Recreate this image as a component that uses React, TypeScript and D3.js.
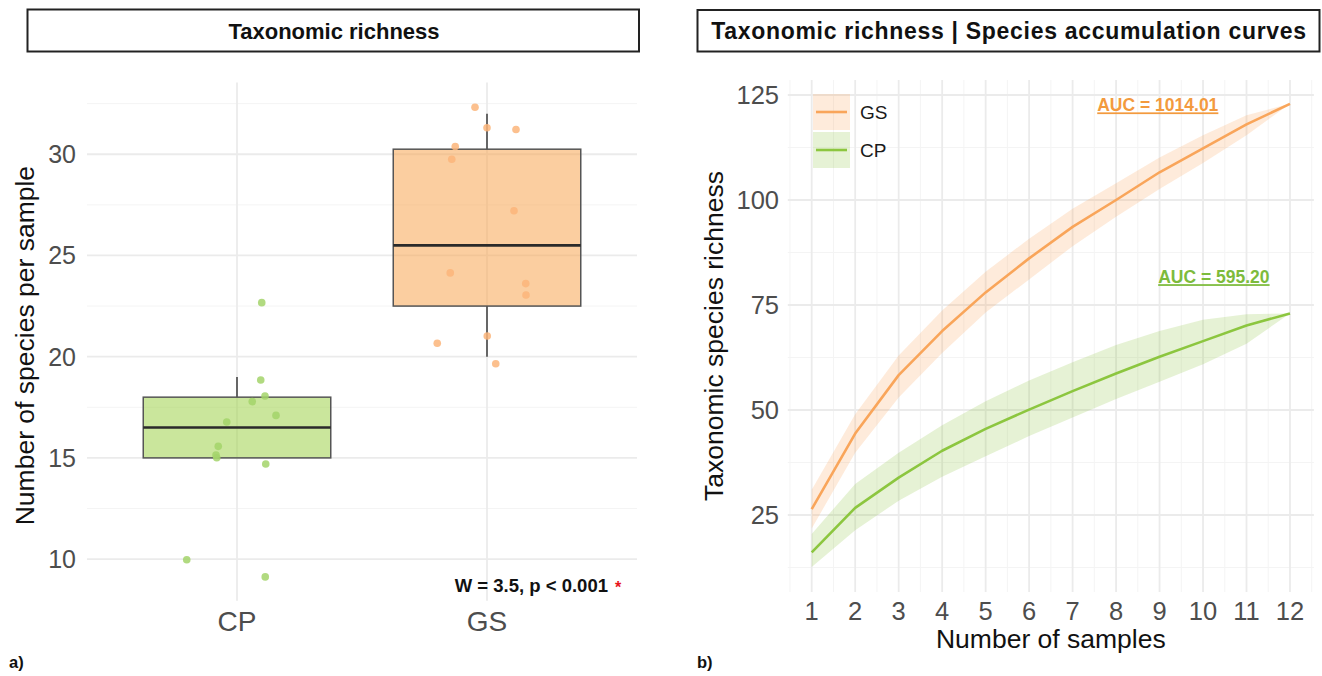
import React from 'react';
import * as d3 from 'd3';

// ---------- Panel a) data ----------
const groups = ['CP', 'GS'];
const cpValues = [22.67, 18.85, 18.06, 17.78, 17.1, 16.77, 15.57, 15.01, 15.14, 14.7, 9.97, 9.12];
const cpJitter = [0.099, 0.095, 0.112, 0.061, 0.156, -0.041, -0.075, -0.081, -0.084, 0.115, -0.201, 0.113];
const gsValues = [32.32, 31.31, 31.22, 30.38, 29.75, 27.21, 24.14, 23.61, 23.05, 21.02, 20.66, 19.65];
const gsJitter = [-0.048, 0, 0.116, -0.127, -0.141, 0.108, -0.147, 0.155, 0.156, 0.001, -0.199, 0.035];
// [lower whisker, q1, median, q3, upper whisker]
const cpBox = [15, 15, 16.5, 18, 19];
const gsBox = [20, 22.5, 25.5, 30.25, 32];
const leftTicks = [10, 15, 20, 25, 30];
const leftMinor = [12.5, 17.5, 22.5, 27.5, 32.5];
const statText = 'W = 3.5, p < 0.001';

// ---------- Panel b) data ----------
const samples = [1, 2, 3, 4, 5, 6, 7, 8, 9, 10, 11, 12];
const gsMean = [26.4, 44.4, 58.3, 68.8, 78.0, 86.1, 93.6, 100.0, 106.6, 112.3, 118.0, 122.9];
const gsLower = [21.8, 39.8, 53.0, 63.6, 73.2, 81.1, 89.0, 96.0, 102.6, 108.8, 115.4, 122.9];
const gsUpper = [31.0, 49.0, 63.0, 73.7, 82.9, 90.8, 97.9, 104.0, 110.1, 115.4, 120.2, 122.9];
const cpMean = [16.1, 26.7, 33.9, 40.3, 45.5, 50.1, 54.5, 58.7, 62.7, 66.4, 70.1, 73.0];
const cpLower = [12.6, 21.4, 28.4, 34.1, 39.0, 43.8, 48.2, 52.6, 56.7, 60.9, 65.8, 73.0];
const cpUpper = [20.5, 32.4, 39.8, 46.4, 52.1, 57.0, 61.4, 65.5, 68.8, 71.5, 72.8, 73.0];
const rightTicks = [25, 50, 75, 100, 125];
const rightMinor = [12.5, 37.5, 62.5, 87.5, 112.5];
const xMinor = [0.5, 1.5, 2.5, 3.5, 4.5, 5.5, 6.5, 7.5, 8.5, 9.5, 10.5, 11.5, 12.5];
const aucLabels = ['AUC = 1014.01', 'AUC = 595.20'];
const aucX = [8.96, 10.25];
const aucY = [122.6, 81.7];

const FONT = '"Liberation Sans", Arial, Helvetica, sans-serif';
const GREEN = '#8cc63f';
const ORANGE = '#f9a55a';
const GRID = '#ebebeb';
const GRID_MINOR = '#f4f4f4';
const TICK = '#4d4d4d';

export default function App() {
  // Left panel scales
  const xL = d3.scaleLinear().domain([0.4, 2.6]).range([87, 637]);
  const yL = d3.scaleLinear().domain([7.94, 33.55]).range([600.8, 82.4]);
  // Right panel scales
  const xR = d3.scaleLinear().domain([0.45, 12.55]).range([787.8, 1313.9]);
  const yR = d3.scaleLinear().domain([6.67, 128.57]).range([592, 80]);

  const boxes = [
    { name: groups[0], stats: cpBox, vals: cpValues, jit: cpJitter, fill: '#9ed24a', pt: '#a3d46a' },
    { name: groups[1], stats: gsBox, vals: gsValues, jit: gsJitter, fill: '#f8a552', pt: '#fbb57a' },
  ];

  const series = [
    { name: 'GS', mean: gsMean, lo: gsLower, hi: gsUpper, color: ORANGE, text: '#f39a3e' },
    { name: 'CP', mean: cpMean, lo: cpLower, hi: cpUpper, color: GREEN, text: '#7dbb3c' },
  ];

  const line = (vals: number[]) =>
    d3.line<number>().x((_, i) => xR(samples[i])).y((d) => yR(d))(vals) || '';
  const area = (lo: number[], hi: number[]) =>
    d3
      .area<number>()
      .x((_, i) => xR(samples[i]))
      .y0((_, i) => yR(lo[i]))
      .y1((_, i) => yR(hi[i]))(samples) || '';

  const half = 0.375;

  return (
    <svg
      width={1322}
      height={676}
      style={{ position: 'absolute', left: 0, top: 0, background: '#fff' }}
      fontFamily={FONT}
    >
      <rect x={0} y={0} width={1322} height={676} fill="#fff" />

      {/* ---------- Panel a ---------- */}
      <rect x={27.5} y={9.5} width={611.5} height={42} fill="#fff" stroke="#222" strokeWidth={2} />
      <text x={334} y={38.5} textAnchor="middle" fontSize={22} fontWeight="bold" fill="#111">
        Taxonomic richness
      </text>

      {leftMinor.map((v) => (
        <line key={'lm' + v} x1={xL(0.4)} x2={xL(2.6)} y1={yL(v)} y2={yL(v)} stroke={GRID_MINOR} strokeWidth={1} />
      ))}
      {leftTicks.map((v) => (
        <line key={'lt' + v} x1={xL(0.4)} x2={xL(2.6)} y1={yL(v)} y2={yL(v)} stroke={GRID} strokeWidth={1.8} />
      ))}
      {groups.map((g, i) => (
        <line key={'lv' + g} x1={xL(i + 1)} x2={xL(i + 1)} y1={yL(33.55)} y2={yL(7.94)} stroke={GRID} strokeWidth={1.8} />
      ))}

      {boxes.map((b, i) => {
        const c = i + 1;
        const [lw, q1, med, q3, uw] = b.stats;
        return (
          <g key={'box' + b.name}>
            <line x1={xL(c)} x2={xL(c)} y1={yL(q3)} y2={yL(uw)} stroke="#444" strokeWidth={1.6} />
            <line x1={xL(c)} x2={xL(c)} y1={yL(q1)} y2={yL(lw)} stroke="#444" strokeWidth={1.6} />
            <rect
              x={xL(c - half)}
              y={yL(q3)}
              width={xL(c + half) - xL(c - half)}
              height={yL(q1) - yL(q3)}
              fill={b.fill}
              fillOpacity={0.55}
              stroke="#555"
              strokeWidth={1.5}
            />
            <line x1={xL(c - half)} x2={xL(c + half)} y1={yL(med)} y2={yL(med)} stroke="#2a2a2a" strokeWidth={2.6} />
            {b.vals.map((v, k) => (
              <circle key={k} cx={xL(c + b.jit[k])} cy={yL(v)} r={3.8} fill={b.pt} fillOpacity={0.85} />
            ))}
          </g>
        );
      })}

      {leftTicks.map((v) => (
        <text key={'ly' + v} x={76} y={yL(v)} dy="0.36em" textAnchor="end" fontSize={25} fill={TICK}>
          {v}
        </text>
      ))}
      {groups.map((g, i) => (
        <text key={'lx' + g} x={xL(i + 1)} y={631} textAnchor="middle" fontSize={28} fill={TICK}>
          {g}
        </text>
      ))}
      <text
        transform={`translate(34,${(yL(33.55) + yL(7.94)) / 2 + 4}) rotate(-90)`}
        textAnchor="middle"
        fontSize={26.5}
        fill="#111"
      >
        Number of species per sample
      </text>
      <text x={608} y={592} textAnchor="end" fontSize={18.5} fontWeight="bold" fill="#111">
        {statText}
      </text>
      <text x={618} y={593} textAnchor="middle" fontSize={16} fontWeight="bold" fill="#e8141c">
        *
      </text>
      <text x={9} y={668} fontSize={16.5} fontWeight="bold" fill="#111">
        a)
      </text>

      {/* ---------- Panel b ---------- */}
      <rect x={697.5} y={10} width={622} height={41.5} fill="#fff" stroke="#222" strokeWidth={2} />
      <text x={1009} y={38.5} textAnchor="middle" fontSize={23} fontWeight="bold" fill="#111" letterSpacing={0.7}>
        Taxonomic richness | Species accumulation curves
      </text>

      {rightMinor.map((v) => (
        <line key={'rm' + v} x1={xR(0.45)} x2={xR(12.55)} y1={yR(v)} y2={yR(v)} stroke={GRID_MINOR} strokeWidth={1} />
      ))}
      {xMinor.map((v) => (
        <line key={'rxm' + v} x1={xR(v)} x2={xR(v)} y1={yR(128.57)} y2={yR(6.67)} stroke={GRID_MINOR} strokeWidth={1} />
      ))}
      {rightTicks.map((v) => (
        <line key={'rt' + v} x1={xR(0.45)} x2={xR(12.55)} y1={yR(v)} y2={yR(v)} stroke={GRID} strokeWidth={1.8} />
      ))}
      {samples.map((s) => (
        <line key={'rv' + s} x1={xR(s)} x2={xR(s)} y1={yR(128.57)} y2={yR(6.67)} stroke={GRID} strokeWidth={1.8} />
      ))}

      {series.map((s) => (
        <path key={'rib' + s.name} d={area(s.lo, s.hi)} fill={s.color} fillOpacity={0.22} />
      ))}
      {series.map((s) => (
        <path key={'ln' + s.name} d={line(s.mean)} fill="none" stroke={s.color} strokeWidth={2.6} strokeLinejoin="round" />
      ))}

      {/* legend */}
      {series.map((s, i) => (
        <g key={'lg' + s.name}>
          <rect x={813} y={94 + i * 38} width={37} height={36} fill={s.color} fillOpacity={0.22} />
          <line x1={816} x2={847} y1={112 + i * 38} y2={112 + i * 38} stroke={s.color} strokeWidth={2.6} />
          <text x={860} y={112 + i * 38} dy="0.36em" fontSize={19} fill="#1a1a1a">
            {s.name}
          </text>
        </g>
      ))}

      {aucLabels.map((t, i) => (
        <text
          key={'auc' + i}
          x={xR(aucX[i])}
          y={yR(aucY[i])}
          dy="0.36em"
          textAnchor="middle"
          fontSize={17.5}
          fontWeight="bold"
          fill={series[i].text}
          style={{ textDecoration: 'underline' }}
        >
          {t}
        </text>
      ))}

      {rightTicks.map((v) => (
        <text key={'ry' + v} x={779} y={yR(v)} dy="0.36em" textAnchor="end" fontSize={25.5} fill={TICK}>
          {v}
        </text>
      ))}
      {samples.map((s) => (
        <text key={'rx' + s} x={xR(s)} y={620} textAnchor="middle" fontSize={25.5} fill={TICK}>
          {s}
        </text>
      ))}
      <text x={(xR(0.45) + xR(12.55)) / 2} y={648} textAnchor="middle" fontSize={26.5} fill="#111">
        Number of samples
      </text>
      <text
        transform={`translate(722.5,${(yR(128.57) + yR(6.67)) / 2}) rotate(-90)`}
        textAnchor="middle"
        fontSize={26.5}
        fill="#111"
      >
        Taxonomic species richness
      </text>
      <text x={697} y={668} fontSize={16.5} fontWeight="bold" fill="#111">
        b)
      </text>
    </svg>
  );
}
